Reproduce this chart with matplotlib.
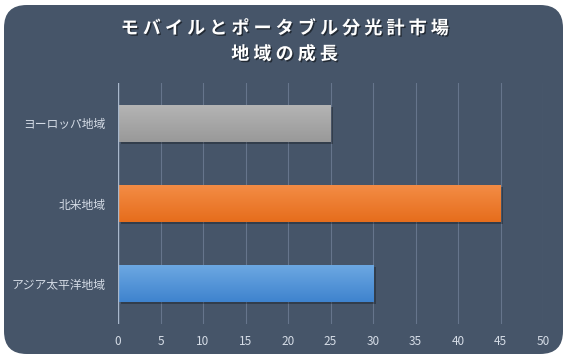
import matplotlib
matplotlib.use("Agg")
import matplotlib.pyplot as plt
import matplotlib.patheffects as pe
from matplotlib.patches import FancyBboxPatch
import numpy as np

plt.rcParams['font.family'] = ['Noto Sans CJK JP', 'DejaVu Sans']

# data (bottom to top)
regions = ["アジア太平洋地域", "北米地域", "ヨーロッパ地域"]
growth = [30, 45, 25]
top_colors = ["#6CA8E2", "#F38C45", "#B4B4B4"]
bottom_colors = ["#3F83CE", "#E66D1C", "#999999"]
xticks = [0, 5, 10, 15, 20, 25, 30, 35, 40, 45, 50]
title_lines = ["モバイルとポータブル分光計市場", "地域の成長"]

panel_color = "#465569"

fig = plt.figure(figsize=(5.69, 3.61), dpi=100)
fig.patch.set_facecolor("white")

# rounded background panel
panel = FancyBboxPatch((4/569, 7/361), 559/569, 349/361,
                       boxstyle="round,pad=0,rounding_size=0.04",
                       transform=fig.transFigure, facecolor=panel_color,
                       edgecolor="none", zorder=-5, mutation_aspect=569/361)
fig.patches.append(panel)

# spaced-out title
title = "\n".join(" ".join(line) for line in title_lines)
fig.text(0.5, 0.886, title,
         ha="center", va="center", color="white", fontsize=13,
         fontweight="bold", linespacing=1.45,
         path_effects=[pe.withSimplePatchShadow(offset=(1, -1), shadow_rgbFace="black", alpha=0.5)])

ax = fig.add_axes([118/569, 1-324/361, 425/569, 241/361])
ax.set_zorder(2)
ax.patch.set_alpha(0)

bar_h = 0.46

for i, (v, c1, c2) in enumerate(zip(growth, top_colors, bottom_colors)):
    # shadow
    ax.barh(i - 0.025, v, height=bar_h, left=0.3, color="black", alpha=0.28, zorder=2)
    # gradient fill
    grad = np.linspace(0, 1, 64).reshape(-1, 1)
    cmap = matplotlib.colors.LinearSegmentedColormap.from_list("g", [c2, c1])
    ax.imshow(grad, extent=[0, v, i - bar_h/2, i + bar_h/2], origin="lower",
              cmap=cmap, aspect="auto", zorder=3)

ax.set_xticks(xticks)
ax.set_xticklabels([str(t) for t in xticks])
ax.set_yticks(range(len(regions)))
ax.set_yticklabels(regions)
ax.set_xlim(0, 50)
ax.set_ylim(-0.5, 2.5)

ax.grid(axis="x", color="#66758C", linewidth=0.8, zorder=1)
ax.set_axisbelow(True)
ax.axvline(0, color="#A9B8CC", linewidth=1.0, zorder=4)
for s in ax.spines.values():
    s.set_visible(False)
ax.tick_params(axis="both", length=0, colors="#D5DCE6", labelsize=8.5)
ax.tick_params(axis="x", pad=8)
ax.tick_params(axis="y", pad=9)

fig.savefig("out.png", dpi=100)
